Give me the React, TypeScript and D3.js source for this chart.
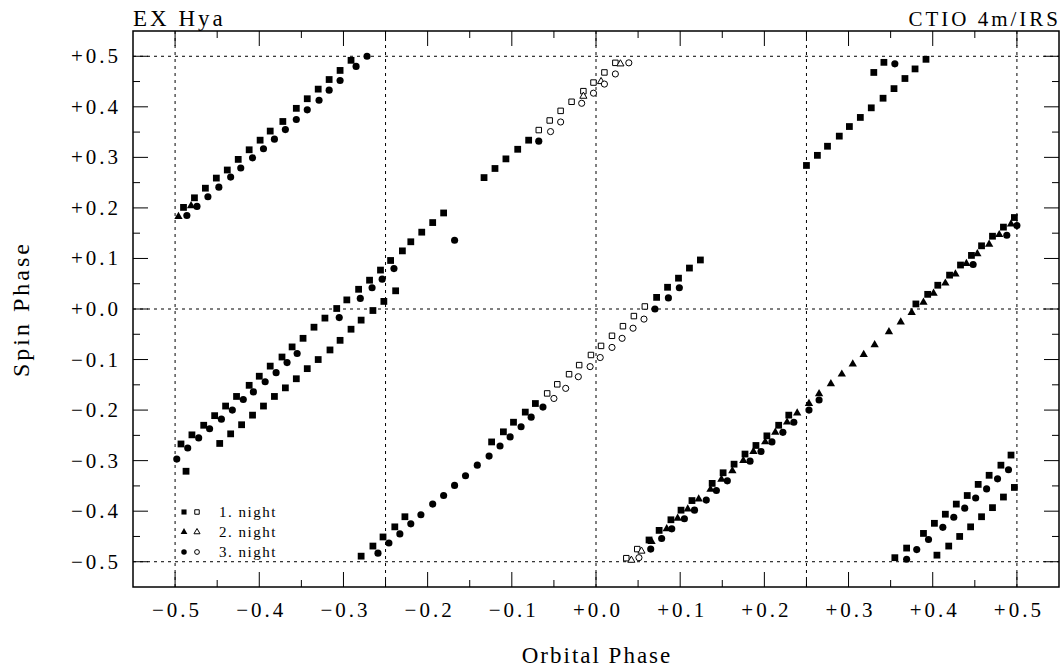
import React from "react";
import * as d3 from "d3";

const W = 1060;
const H = 669;
const plot = { left: 133, right: 1059, top: 31, bottom: 587 };

// night 1 (filled squares: first pass, open squares: second pass)
const night1Filled: [number, number][] = [
  [-0.490, 0.201], [-0.477, 0.220], [-0.464, 0.239], [-0.451, 0.259], [-0.438, 0.275], [-0.425, 0.296],
  [-0.412, 0.315], [-0.399, 0.334], [-0.387, 0.352], [-0.372, 0.371], [-0.356, 0.397], [-0.343, 0.416],
  [-0.330, 0.435], [-0.317, 0.454], [-0.304, 0.472], [-0.291, 0.492],
  [-0.133, 0.260], [-0.120, 0.278], [-0.107, 0.297], [-0.093, 0.316], [-0.080, 0.334],
  [0.250, 0.284], [0.263, 0.304], [0.275, 0.322], [0.289, 0.342], [0.301, 0.361], [0.314, 0.379],
  [0.327, 0.398], [0.341, 0.417], [0.354, 0.436], [0.367, 0.456], [0.379, 0.475], [0.392, 0.494],
  [0.330, 0.468], [0.342, 0.488],
  [-0.493, -0.267], [-0.480, -0.249], [-0.466, -0.230], [-0.453, -0.211], [-0.440, -0.192],
  [-0.427, -0.173], [-0.412, -0.151], [-0.400, -0.133], [-0.387, -0.113], [-0.373, -0.095], [-0.361, -0.075],
  [-0.348, -0.058], [-0.335, -0.036], [-0.322, -0.018], [-0.308, 0.001], [-0.296, 0.018], [-0.282, 0.039],
  [-0.269, 0.057], [-0.256, 0.077], [-0.244, 0.096], [-0.230, 0.115], [-0.220, 0.133],
  [-0.207, 0.152], [-0.194, 0.171], [-0.181, 0.190],
  [-0.487, -0.321], [-0.447, -0.266], [-0.434, -0.247], [-0.421, -0.229], [-0.408, -0.210], [-0.395, -0.192],
  [-0.382, -0.173], [-0.369, -0.156], [-0.356, -0.138], [-0.343, -0.118], [-0.330, -0.100], [-0.316, -0.081],
  [-0.304, -0.062], [-0.291, -0.040], [-0.279, -0.022], [-0.265, -0.003], [-0.252, 0.015], [-0.238, 0.036],
  [-0.279, -0.489], [-0.265, -0.469], [-0.253, -0.451], [-0.239, -0.431], [-0.227, -0.411],
  [-0.124, -0.263], [-0.110, -0.243], [-0.098, -0.224], [-0.084, -0.204], [-0.072, -0.187],
  [0.072, 0.023], [0.085, 0.043], [0.098, 0.061], [0.111, 0.081], [0.124, 0.097],
  [0.063, -0.457], [0.075, -0.438], [0.089, -0.417], [0.101, -0.398], [0.114, -0.379], [0.138, -0.345],
  [0.151, -0.324], [0.164, -0.307], [0.177, -0.287], [0.190, -0.270], [0.203, -0.251], [0.217, -0.230],
  [0.229, -0.210],
  [0.380, 0.010], [0.394, 0.029], [0.406, 0.047], [0.420, 0.067], [0.433, 0.087], [0.446, 0.106],
  [0.458, 0.125], [0.471, 0.144], [0.484, 0.162], [0.497, 0.181],
  [0.355, -0.492], [0.369, -0.473], [0.389, -0.444], [0.402, -0.424], [0.415, -0.406], [0.428, -0.386],
  [0.441, -0.369], [0.454, -0.347], [0.467, -0.329], [0.481, -0.309], [0.493, -0.289],
  [0.405, -0.487], [0.419, -0.469], [0.432, -0.450], [0.445, -0.431], [0.458, -0.411], [0.471, -0.393],
  [0.484, -0.372], [0.497, -0.353],
];
const night1Open: [number, number][] = [
  [-0.068, 0.354], [-0.055, 0.373], [-0.042, 0.392], [-0.029, 0.410], [-0.015, 0.431], [-0.003, 0.448],
  [0.010, 0.468], [0.023, 0.487],
  [-0.058, -0.167], [-0.046, -0.149], [-0.032, -0.129], [-0.020, -0.111], [-0.006, -0.091], [0.006, -0.073],
  [0.019, -0.053], [0.032, -0.034], [0.045, -0.014], [0.058, 0.005],
  [0.036, -0.493], [0.049, -0.475],
];

// night 2
const night2Filled: [number, number][] = [
  [-0.496, 0.183], [-0.481, 0.204],
  [0.066, -0.460], [0.084, -0.435], [0.097, -0.414], [0.109, -0.396], [0.122, -0.376], [0.136, -0.357],
  [0.149, -0.337], [0.162, -0.320], [0.175, -0.300], [0.187, -0.282], [0.201, -0.263], [0.213, -0.244],
  [0.227, -0.224], [0.239, -0.206], [0.253, -0.187], [0.265, -0.168], [0.279, -0.148], [0.292, -0.129],
  [0.305, -0.109], [0.318, -0.090], [0.331, -0.071], [0.348, -0.045], [0.362, -0.026], [0.375, -0.007],
  [0.389, 0.013], [0.401, 0.031], [0.415, 0.051], [0.427, 0.069], [0.440, 0.090], [0.453, 0.109],
  [0.467, 0.128], [0.479, 0.147], [0.493, 0.168],
];
const night2Open: [number, number][] = [
  [-0.015, 0.421], [0.006, 0.450], [0.029, 0.485],
  [0.042, -0.497], [0.054, -0.479],
];

// night 3
const night3Filled: [number, number][] = [
  [-0.486, 0.185], [-0.474, 0.203], [-0.461, 0.222], [-0.448, 0.241], [-0.434, 0.261], [-0.422, 0.279],
  [-0.408, 0.299], [-0.395, 0.317], [-0.382, 0.336], [-0.369, 0.355], [-0.356, 0.375], [-0.343, 0.394],
  [-0.329, 0.413], [-0.317, 0.433], [-0.304, 0.452], [-0.285, 0.480], [-0.272, 0.500],
  [-0.068, 0.332], [0.355, 0.485],
  [-0.498, -0.297], [-0.485, -0.275], [-0.472, -0.255], [-0.459, -0.237], [-0.445, -0.218], [-0.432, -0.200],
  [-0.419, -0.179], [-0.407, -0.164], [-0.393, -0.144], [-0.380, -0.126], [-0.367, -0.106], [-0.355, -0.088],
  [-0.305, -0.017], [-0.280, 0.021], [-0.266, 0.042], [-0.254, 0.059], [-0.240, 0.080], [-0.168, 0.136],
  [-0.259, -0.483], [-0.246, -0.463], [-0.233, -0.445], [-0.220, -0.425], [-0.208, -0.407], [-0.194, -0.386],
  [-0.181, -0.369], [-0.168, -0.349], [-0.155, -0.330], [-0.141, -0.309], [-0.127, -0.291], [-0.114, -0.271],
  [-0.102, -0.253], [-0.089, -0.233], [-0.077, -0.214], [-0.063, -0.194],
  [0.070, 0.000], [0.086, 0.022], [0.099, 0.042],
  [0.065, -0.475], [0.078, -0.454], [0.090, -0.435], [0.105, -0.415], [0.117, -0.398], [0.131, -0.378],
  [0.143, -0.359], [0.156, -0.340], [0.183, -0.301], [0.196, -0.282], [0.209, -0.263], [0.222, -0.244],
  [0.235, -0.224], [0.253, -0.200], [0.265, -0.180],
  [0.448, 0.088], [0.488, 0.146], [0.500, 0.165],
  [0.369, -0.495], [0.381, -0.476], [0.395, -0.456], [0.412, -0.432], [0.425, -0.412], [0.438, -0.394],
  [0.451, -0.374], [0.464, -0.356], [0.477, -0.336], [0.490, -0.318],
];
const night3Open: [number, number][] = [
  [-0.054, 0.351], [-0.042, 0.370], [-0.017, 0.407], [-0.003, 0.427], [0.010, 0.445], [0.023, 0.465],
  [0.039, 0.487],
  [-0.050, -0.177], [-0.036, -0.157], [-0.021, -0.134], [-0.007, -0.114], [0.005, -0.096], [0.019, -0.076],
  [0.031, -0.058], [0.044, -0.038], [0.057, -0.020],
  [0.051, -0.492],
];

const majorTicks = [-0.5, -0.4, -0.3, -0.2, -0.1, 0.0, 0.1, 0.2, 0.3, 0.4, 0.5];
const minorTicks = [-0.45, -0.35, -0.25, -0.15, -0.05, 0.05, 0.15, 0.25, 0.35, 0.45];
const xGuides = [-0.5, -0.25, 0, 0.25, 0.5];
const yGuides = [-0.5, 0, 0.5];
const legendLabels = ["1. night", "2. night", "3. night"];

const FONT = "'Liberation Serif', 'DejaVu Serif', serif";

const fmt = (v: number) => (v < -1e-9 ? "\u2212" : "+") + Math.abs(v).toFixed(1);

export default function App() {
  const x = d3.scaleLinear().domain([-0.55, 0.55]).range([plot.left, plot.right]);
  const y = d3.scaleLinear().domain([-0.55, 0.55]).range([plot.bottom, plot.top]);

  const sq = d3.symbol(d3.symbolSquare, 46)()!;
  const sqOpen = d3.symbol(d3.symbolSquare, 30)()!;
  const tri = d3.symbol(d3.symbolTriangle, 30)()!;
  const triOpen = d3.symbol(d3.symbolTriangle, 22)()!;
  const circ = d3.symbol(d3.symbolCircle, 40)()!;
  const circOpen = d3.symbol(d3.symbolCircle, 30)()!;

  const series = [
    { data: night1Filled, path: sq, open: false },
    { data: night2Filled, path: tri, open: false },
    { data: night3Filled, path: circ, open: false },
    { data: night1Open, path: sqOpen, open: true },
    { data: night2Open, path: triOpen, open: true },
    { data: night3Open, path: circOpen, open: true },
  ];

  const legendShapes = [
    [d3.symbol(d3.symbolSquare, 26)()!, d3.symbol(d3.symbolSquare, 20)()!],
    [d3.symbol(d3.symbolTriangle, 20)()!, d3.symbol(d3.symbolTriangle, 16)()!],
    [d3.symbol(d3.symbolCircle, 24)()!, d3.symbol(d3.symbolCircle, 18)()!],
  ];

  const dash = "3,4";

  return (
    <svg width={W} height={H} style={{ position: "absolute", left: 0, top: 0, background: "#fff" }}
      fontFamily={FONT}>
      {/* guide lines */}
      {yGuides.map((g) => (
        <line key={"hy" + g} x1={plot.left} x2={plot.right} y1={y(g)} y2={y(g)}
          stroke="#000" strokeWidth={1} strokeDasharray={dash} />
      ))}
      {xGuides.map((g) => (
        <line key={"vx" + g} x1={x(g)} x2={x(g)} y1={plot.top} y2={plot.bottom}
          stroke="#000" strokeWidth={1} strokeDasharray={dash} />
      ))}

      {/* ticks */}
      {majorTicks.map((t) => (
        <g key={"mt" + t} stroke="#000" strokeWidth={1}>
          <line x1={x(t)} x2={x(t)} y1={plot.bottom} y2={plot.bottom - 15} />
          <line x1={x(t)} x2={x(t)} y1={plot.top} y2={plot.top + 15} />
          <line x1={plot.left} x2={plot.left + 15} y1={y(t)} y2={y(t)} />
          <line x1={plot.right} x2={plot.right - 15} y1={y(t)} y2={y(t)} />
        </g>
      ))}
      {minorTicks.map((t) => (
        <g key={"nt" + t} stroke="#000" strokeWidth={1}>
          <line x1={x(t)} x2={x(t)} y1={plot.bottom} y2={plot.bottom - 7} />
          <line x1={x(t)} x2={x(t)} y1={plot.top} y2={plot.top + 7} />
          <line x1={plot.left} x2={plot.left + 7} y1={y(t)} y2={y(t)} />
          <line x1={plot.right} x2={plot.right - 7} y1={y(t)} y2={y(t)} />
        </g>
      ))}

      {/* frame */}
      <rect x={plot.left} y={plot.top} width={plot.right - plot.left} height={plot.bottom - plot.top}
        fill="none" stroke="#000" strokeWidth={1.5} />

      {/* data */}
      {series.map((s, i) => (
        <g key={"s" + i}>
          {s.data.map((d, j) => (
            <path key={j} d={s.path} transform={`translate(${x(d[0])},${y(d[1])})`}
              fill={s.open ? "#fff" : "#000"} stroke="#000" strokeWidth={s.open ? 1 : 0} />
          ))}
        </g>
      ))}

      {/* tick labels */}
      {majorTicks.map((t) => (
        <text key={"xl" + t} x={x(t) + 2} y={617} textAnchor="middle" fontSize={21} letterSpacing={3}>
          {fmt(t)}
        </text>
      ))}
      {majorTicks.map((t) => (
        <text key={"yl" + t} x={121} y={y(t) + 7} textAnchor="end" fontSize={21} letterSpacing={3}>
          {fmt(t)}
        </text>
      ))}

      {/* legend */}
      {legendLabels.map((lab, i) => {
        const ly = 512 + i * 20;
        return (
          <g key={"lg" + i}>
            <path d={legendShapes[i][0]} transform={`translate(184,${ly})`} fill="#000" />
            <path d={legendShapes[i][1]} transform={`translate(197,${ly})`} fill="#fff" stroke="#000" strokeWidth={1} />
            <text x={219} y={ly + 5} fontSize={15} letterSpacing={1.5}>{lab}</text>
          </g>
        );
      })}

      {/* titles */}
      <text x={plot.left} y={26} fontSize={23} letterSpacing={3}>EX Hya</text>
      <text x={1061} y={26} fontSize={21} letterSpacing={3} textAnchor="end">CTIO 4m/IRS</text>
      <text x={597} y={663} fontSize={23} letterSpacing={2} textAnchor="middle">Orbital Phase</text>
      <text transform={`translate(29,${y(0)}) rotate(-90)`} fontSize={24} letterSpacing={3} textAnchor="middle">
        Spin Phase
      </text>
    </svg>
  );
}
